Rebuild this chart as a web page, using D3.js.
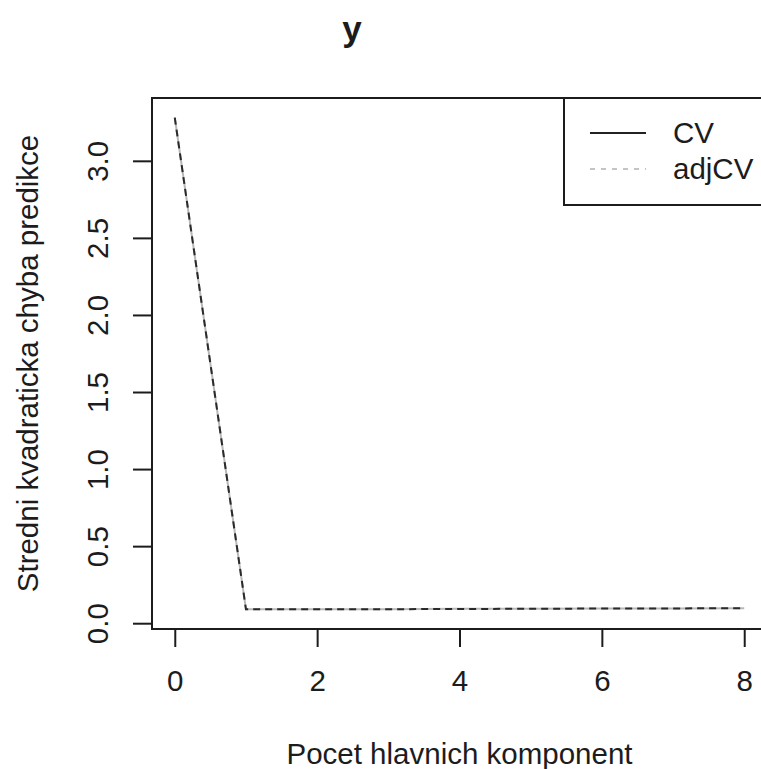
<!DOCTYPE html>
<html>
<head>
<meta charset="utf-8">
<script src="https://cdn.jsdelivr.net/npm/d3@7"></script>
<style>
  html, body { margin: 0; padding: 0; background: #fff; }
  svg { display: block; font-family: "Liberation Sans", Arial, Helvetica, sans-serif; }
</style>
</head>
<body>
<svg id="chart" width="761" height="769"></svg>
<script>
// Number of principal components and prediction error estimates
const components = [0, 1, 2, 3, 4, 5, 6, 7, 8];
const cvValues = [3.28, 0.090, 0.090, 0.091, 0.093, 0.094, 0.095, 0.096, 0.097];
const adjCvValues = [3.28, 0.090, 0.090, 0.091, 0.092, 0.094, 0.095, 0.096, 0.097];
const xTicks = [0, 2, 4, 6, 8];
const yTicks = [0, 0.5, 1.0, 1.5, 2.0, 2.5, 3.0];
const seriesNames = ["CV", "adjCV"];

const svg = d3.select("#chart");
const ink = "#1c1c1c";
const fontSize = 29.5;

// Plot region (extends slightly past the right edge of the canvas)
const plotLeft = 152, plotRight = 767, plotTop = 98, plotBottom = 629;

const x = d3.scaleLinear().domain([-0.32, 8.32]).range([plotLeft, plotRight]);
const y = d3.scaleLinear().domain([-0.0376, 3.4076]).range([plotBottom, plotTop]);

// Box around plot
svg.append("rect")
  .attr("x", plotLeft).attr("y", plotTop)
  .attr("width", plotRight - plotLeft).attr("height", plotBottom - plotTop)
  .attr("fill", "none").attr("stroke", ink).attr("stroke-width", 2);

// X axis
const xAxis = d3.axisBottom(x).tickValues(xTicks).tickSize(18).tickPadding(23)
  .tickFormat(d3.format("d"));
const gx = svg.append("g").attr("transform", `translate(0,${plotBottom})`).call(xAxis);
gx.select(".domain").attr("stroke", ink).attr("stroke-width", 2)
  .attr("d", `M${x(0)},0H${x(8)}`);
gx.selectAll(".tick line").attr("stroke", ink).attr("stroke-width", 2);
gx.selectAll(".tick text").attr("fill", ink).attr("font-size", fontSize)
  .attr("font-family", "Liberation Sans, Arial, sans-serif");

// Y axis (labels rotated parallel to the axis)
const yAxis = d3.axisLeft(y).tickValues(yTicks).tickSize(19)
  .tickFormat(d3.format(".1f"));
const gy = svg.append("g").attr("transform", `translate(${plotLeft},0)`).call(yAxis);
gy.select(".domain").attr("stroke", ink).attr("stroke-width", 2)
  .attr("d", `M0,${y(0)}V${y(3)}`);
gy.selectAll(".tick line").attr("stroke", ink).attr("stroke-width", 2);
gy.selectAll(".tick text")
  .attr("fill", ink).attr("font-size", fontSize)
  .attr("font-family", "Liberation Sans, Arial, sans-serif")
  .attr("x", null).attr("dy", null)
  .attr("text-anchor", "middle")
  .attr("transform", "translate(-44,0) rotate(-90)");

// Lines
const line = d3.line().x((d, i) => x(components[i])).y(d => y(d));

svg.append("path").datum(cvValues)
  .attr("d", line).attr("fill", "none")
  .attr("stroke", "#b8b8b8").attr("stroke-width", 2);

svg.append("path").datum(adjCvValues)
  .attr("d", line).attr("fill", "none")
  .attr("stroke", "#2a2a2a").attr("stroke-width", 2)
  .attr("stroke-dasharray", "7,5");

// Title
svg.append("text")
  .attr("x", 352).attr("y", 41)
  .attr("text-anchor", "middle")
  .attr("font-size", 35).attr("font-weight", "bold").attr("fill", ink)
  .text("y");

// Axis titles
svg.append("text")
  .attr("x", (plotLeft + plotRight) / 2).attr("y", 764)
  .attr("text-anchor", "middle")
  .attr("font-size", fontSize).attr("fill", ink)
  .text("Pocet hlavnich komponent");

svg.append("text")
  .attr("transform", `translate(38,${(plotTop + plotBottom) / 2}) rotate(-90)`)
  .attr("text-anchor", "middle")
  .attr("font-size", fontSize).attr("fill", ink)
  .text("Stredni kvadraticka chyba predikce");

// Legend
const legend = svg.append("g");
legend.append("rect")
  .attr("x", 564).attr("y", plotTop)
  .attr("width", 230).attr("height", 107)
  .attr("fill", "#fff").attr("stroke", ink).attr("stroke-width", 2);

const legendStyles = [
  { stroke: "#222", dash: null },
  { stroke: "#c4c4c4", dash: "5,6" }
];
seriesNames.forEach((name, i) => {
  const ly = 133 + i * 36;
  legend.append("line")
    .attr("x1", 590).attr("x2", 646).attr("y1", ly).attr("y2", ly)
    .attr("stroke", legendStyles[i].stroke).attr("stroke-width", 2)
    .attr("stroke-dasharray", legendStyles[i].dash);
  legend.append("text")
    .attr("x", 673).attr("y", ly + 10)
    .attr("font-size", fontSize).attr("fill", ink)
    .text(name);
});
</script>
</body>
</html>
